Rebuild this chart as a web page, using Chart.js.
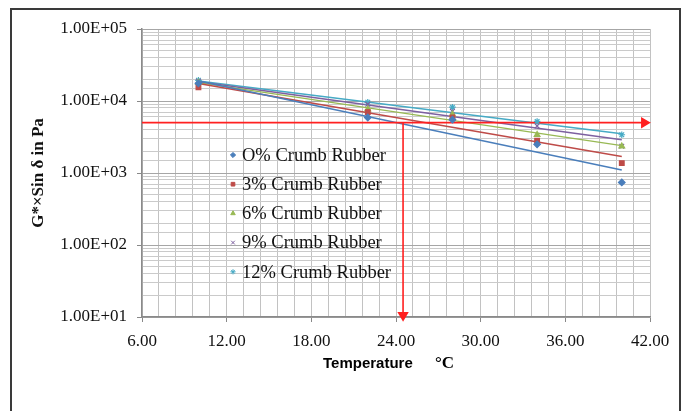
<!DOCTYPE html>
<html>
<head>
<meta charset="utf-8">
<script src="https://cdn.jsdelivr.net/npm/chart.js@4.4.1/dist/chart.umd.min.js"></script>
<style>
html, body { margin: 0; padding: 0; background: #fff; }
canvas { display: block; }
</style>
</head>
<body>
<canvas id="chart" width="683" height="411"></canvas>
<script>
const temperature = [10, 22, 28, 34, 40];
const rubber0 = [17600, 5900, 5500, 2500, 740];
const rubber3 = [15500, 7000, 5900, 2800, 1370];
const rubber6 = [18000, 7700, 6500, 3400, 2350];
const rubber9 = [18800, 9000, 7200, 4500, 2350];
const rubber12 = [19400, 9600, 8200, 5200, 3400];

// exponential trendline end points (straight on log axis)
const trendX = [10, 40];
const trend0 = [19000, 1100];
const trend3 = [17500, 1700];
const trend6 = [18000, 2400];
const trend9 = [18500, 2900];
const trend12 = [19000, 3500];

// red guide lines
const limitX = [6, 41.6];
const limitY = [5000, 5000];
const cutX = [24.5, 24.5];
const cutY = [5000, 10.6];

const names = ['O% Crumb Rubber', '3% Crumb Rubber', '6% Crumb Rubber', '9% Crumb Rubber', '12% Crumb Rubber'];
const colors = ['#4A7EBB', '#BE4B48', '#98B954', '#7D60A0', '#46AAC5'];
const markers = ['rectRot', 'rect', 'triangle', 'crossRot', 'star'];

const points = [rubber0, rubber3, rubber6, rubber9, rubber12];
const trends = [trend0, trend3, trend6, trend9, trend12];

function pairs(xs, ys) {
    return xs.map((x, i) => ({ x: x, y: ys[i] }));
}

function isDecade(v) {
    const e = Math.log10(v);
    return Math.abs(e - Math.round(e)) < 1e-9;
}

function isMajorX(v) {
    return Math.abs(v / 6 - Math.round(v / 6)) < 1e-6;
}

const datasets = [];
points.forEach((ys, i) => {
    const data = pairs(temperature, ys);
    datasets.push({
        label: names[i],
        data,
        showLine: false,
        pointStyle: markers[i],
        pointRadius: 3.3,
        pointBackgroundColor: colors[i],
        pointBorderColor: colors[i],
        pointBorderWidth: 1.2,
        order: 1
    });
});
trends.forEach((ys, i) => {
    const data = pairs(trendX, ys);
    datasets.push({
        label: names[i] + ' trend',
        data,
        showLine: true,
        borderColor: colors[i],
        borderWidth: 1.5,
        pointRadius: 0,
        order: 3
    });
});

function guide(label, xs, ys, rotation) {
    const data = pairs(xs, ys);
    return {
        label,
        data,
        showLine: true,
        clip: false,
        borderColor: '#FF2020',
        borderWidth: 1.6,
        pointStyle: 'triangle',
        pointRadius: [0, 5],
        pointRotation: rotation,
        pointBackgroundColor: '#FF2020',
        pointBorderColor: '#FF2020',
        order: 2
    };
}
datasets.push(guide('limit', limitX, limitY, 90));
datasets.push(guide('cut', cutX, cutY, 180));

const framePlugin = {
    id: 'frame',
    beforeDraw(chart) {
        const ctx = chart.ctx;
        ctx.save();
        ctx.fillStyle = '#ffffff';
        ctx.fillRect(0, 0, chart.width, chart.height);
        ctx.strokeStyle = '#3a3a3a';
        ctx.lineWidth = 2;
        ctx.strokeRect(11, 9, 669, 410);
        ctx.restore();
    }
};

const legendPlugin = {
    id: 'insideLegend',
    afterDraw(chart) {
        const ctx = chart.ctx;
        ctx.save();
        ctx.font = '18.5px "Liberation Serif", "Times New Roman", serif';
        ctx.textBaseline = 'middle';
        names.forEach((name, i) => {
            const y = 155 + i * 29.2;
            ctx.fillStyle = colors[i];
            ctx.strokeStyle = colors[i];
            ctx.lineWidth = 1;
            Chart.helpers.drawPoint(ctx, {
                pointStyle: markers[i],
                radius: 2.6,
                rotation: 0,
                borderWidth: 1
            }, 233, y);
            ctx.fillStyle = '#111';
            ctx.fillText(name, 242, y + 1);
        });
        ctx.restore();
    }
};

const xTitlePlugin = {
    id: 'xTitle',
    afterDraw(chart) {
        const ctx = chart.ctx;
        ctx.save();
        ctx.fillStyle = '#000';
        ctx.textBaseline = 'middle';
        ctx.font = 'bold 15px "Liberation Sans", Arial, sans-serif';
        ctx.fillText('Temperature', 323, 364);
        ctx.font = 'bold 17px "Liberation Serif", "Times New Roman", serif';
        ctx.fillText('\u00B0C', 435, 364);
        ctx.restore();
    }
};

new Chart(document.getElementById('chart'), {
    type: 'scatter',
    data: { datasets },
    options: {
        responsive: false,
        animation: false,
        layout: { padding: { left: 0, right: 33, top: 29, bottom: 0 } },
        plugins: {
            legend: { display: false },
            tooltip: { enabled: false }
        },
        scales: {
            x: {
                type: 'linear',
                min: 6,
                max: 42,
                afterFit: (scale) => { scale.height = 94; },
                ticks: {
                    stepSize: 1.2,
                    autoSkip: false,
                    maxRotation: 0,
                    padding: 9,
                    color: '#111',
                    font: { family: '"Liberation Serif", "Times New Roman", serif', size: 17 },
                    callback: (v) => isMajorX(v) ? v.toFixed(2) : ''
                },
                grid: {
                    color: '#c2c2c2',
                    lineWidth: 1,
                    tickLength: 5,
                    tickColor: (c) => (c.tick && isMajorX(c.tick.value)) ? '#888' : 'rgba(0,0,0,0)'
                },
                border: { color: '#8a8a8a', width: 1.5 }
            },
            y: {
                type: 'logarithmic',
                min: 10,
                max: 100000,
                afterFit: (scale) => { scale.width = 142; },
                title: {
                    display: true,
                    text: 'G*\u00D7Sin \u03B4 in Pa',
                    color: '#111',
                    font: { family: '"Liberation Serif", "Times New Roman", serif', size: 17, weight: 'bold' },
                    padding: { top: 28, bottom: 0 }
                },
                ticks: {
                    autoSkip: false,
                    padding: 10,
                    color: '#111',
                    font: { family: '"Liberation Serif", "Times New Roman", serif', size: 17 },
                    callback: (v) => isDecade(v) ? '1.00E+' + String(Math.round(Math.log10(v))).padStart(2, '0') : ''
                },
                grid: {
                    color: (c) => (c.tick && isDecade(c.tick.value)) ? '#a6a6a6' : '#cacaca',
                    lineWidth: 1,
                    tickLength: 5,
                    tickColor: (c) => (c.tick && isDecade(c.tick.value)) ? '#888' : 'rgba(0,0,0,0)'
                },
                border: { color: '#8a8a8a', width: 1.5 }
            }
        }
    },
    plugins: [framePlugin, legendPlugin, xTitlePlugin]
});
</script>
</body>
</html>
